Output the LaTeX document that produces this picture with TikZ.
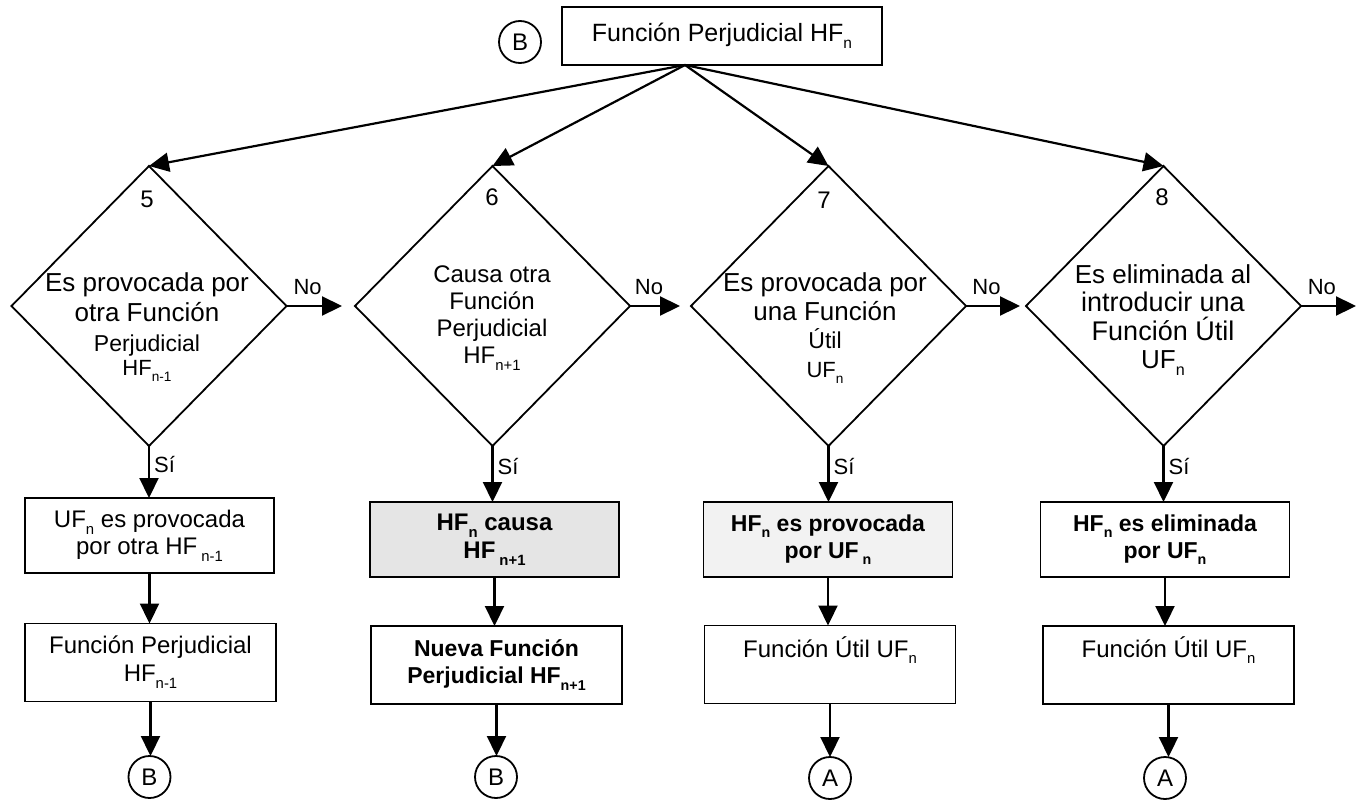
\documentclass[tikz,border=0pt]{standalone}
\usepackage{fontspec}
\setmainfont{Liberation Sans}
\usepackage{graphicx}
\usetikzlibrary{shapes.geometric,arrows.meta}
% lowered index, as in HF_n
\newcommand\lo[1]{\raisebox{-0.28em}{\scalebox{0.62}{#1}}}
\newcommand\fs[2][]{\fontsize{#2}{#2}\selectfont}
\newcommand\fsl[2]{\fontsize{#1}{#2}\selectfont}

\begin{document}
\begin{tikzpicture}[x=1pt,y=-1pt,
  question/.style={diamond,draw,line width=1.8pt,minimum width=275pt,
    minimum height=280pt,inner sep=0pt,outer sep=0pt},
  midbox/.style={rectangle,draw,line width=1.8pt,minimum width=249pt,
    minimum height=75pt,inner sep=0pt,outer sep=0pt,align=center},
  lowbox/.style={midbox,minimum width=251pt,minimum height=78pt},
  term/.style={circle,draw,line width=1.8pt,minimum size=42pt,inner sep=0pt,
    outer sep=0pt,font=\fs{24}},
  conn/.style={line width=2.2pt,-{Triangle[length=20pt,width=19pt]}},
  lbl/.style={font=\fs{22},inner sep=1pt},
  qtext/.style={align=center,inner sep=0pt}]

\fill[white] (0,0) rectangle (1359,800);
\useasboundingbox (0,0) rectangle (1359,800);

% top of the chart
\node[term] (ct) at (520,42) {B};
\node[midbox,minimum width=320pt,minimum height=58pt,font=\fs{25}] (t) at (722,36)
  {Función Perjudicial HF\lo{n}};
\coordinate (hub) at (685,65);

% the four questions
\node[question] (q5) at (149,306) {};
\node[question] (q6) at (492.5,306) {};
\node[question] (q7) at (828.5,306) {};
\node[question] (q8) at (1163.5,306) {};

\node[font=\fs{24}] (q5n) at (147,199) {5};
\node[font=\fs{24}] (q6n) at (492,197) {6};
\node[font=\fs{24}] (q7n) at (824,200) {7};
\node[font=\fs{24}] (q8n) at (1162,197) {8};

\node[qtext,font=\fsl{26}{30}] (q5t) at (147,327)
  {Es provocada por\\otra Función\\{\fs{23}Perjudicial}\\[-6pt]{\fs{22}HF\lo{n-1}}};
\node[qtext,font=\fsl{24}{27}] (q6t) at (492,318)
  {Causa otra\\Función\\Perjudicial\\HF\lo{n+1}};
\node[qtext,font=\fsl{26}{28.5}] (q7t) at (825,328)
  {Es provocada por\\una Función\\{\fs{23}Útil}\\{\fs{22}UF\lo{n}}};
\node[qtext,font=\fsl{26}{28.5}] (q8t) at (1163,320)
  {Es eliminada al\\{\fs{27}introducir una}\\{\fs{27}Función Útil}\\UF\lo{n}};

\coordinate (n5) at (342,306);
\coordinate (n6) at (680,306);
\coordinate (n7) at (1020,306);
\coordinate (n8) at (1356,306);

% outcomes of the questions
\node[midbox,font=\fsl{24}{27}] (m1) at (149.5,535.5)
  {UF\lo{n} es provocada\\por otra HF\,\lo{n-1}};
\node[midbox,fill=black!10,font=\bfseries\fsl{24}{28}] (m2) at (494.5,539.5)
  {HF\lo{n} causa\\HF\,\lo{n+1}};
\node[midbox,fill=black!5,font=\bfseries\fsl{23}{27}] (m3) at (828,539.5)
  {HF\lo{n} es provocada\\por UF\,\lo{n}};
\node[midbox,font=\bfseries\fsl{23}{27}] (m4) at (1165,539.5)
  {HF\lo{n} es eliminada\\por UF\lo{n}};

\node[lowbox,font=\fsl{24}{28}] (l1) at (150.5,662.5)
  {Función Perjudicial\\HF\lo{n-1}};
\node[lowbox,font=\bfseries\fsl{23}{27}] (l2) at (496.5,665)
  {Nueva Función\\Perjudicial HF\lo{n+1}};
\node[lowbox] (l3) at (830,664.5) {};
\node[font=\fs{24}] (l3t) at (830,650) {Función Útil UF\lo{n}};
\node[lowbox] (l4) at (1168.5,665) {};
\node[font=\fs{24}] (l4t) at (1168.5,650) {Función Útil UF\lo{n}};

\node[term] (c1) at (149.5,777) {B};
\node[term] (c2) at (496,777) {B};
\node[term] (c3) at (830,778) {A};
\node[term] (c4) at (1165,778) {A};

% connectors
\foreach \q in {q5,q6,q7,q8}
  \draw[conn] (t.south -| hub) -- (\q.north);

\foreach \q/\n in {q5/n5,q6/n6,q7/n7,q8/n8}
  \draw[conn] (\q.east) -- (\n) node[lbl,pos=0.38,above=9pt] {No};

\foreach \q/\m/\l/\c in {q5/m1/l1/c1,q6/m2/l2/c2,q7/m3/l3/c3,q8/m4/l4/c4}{
  \draw[conn] (\q.south) -- (\q.south |- \m.north) node[lbl,pos=0.36,right=3pt] {Sí};
  \draw[conn] (\m.south) -- (\m.south |- \l.north);
  \draw[conn] (\l.south) -- (\l.south |- \c.north);
}
\end{tikzpicture}
\end{document}
